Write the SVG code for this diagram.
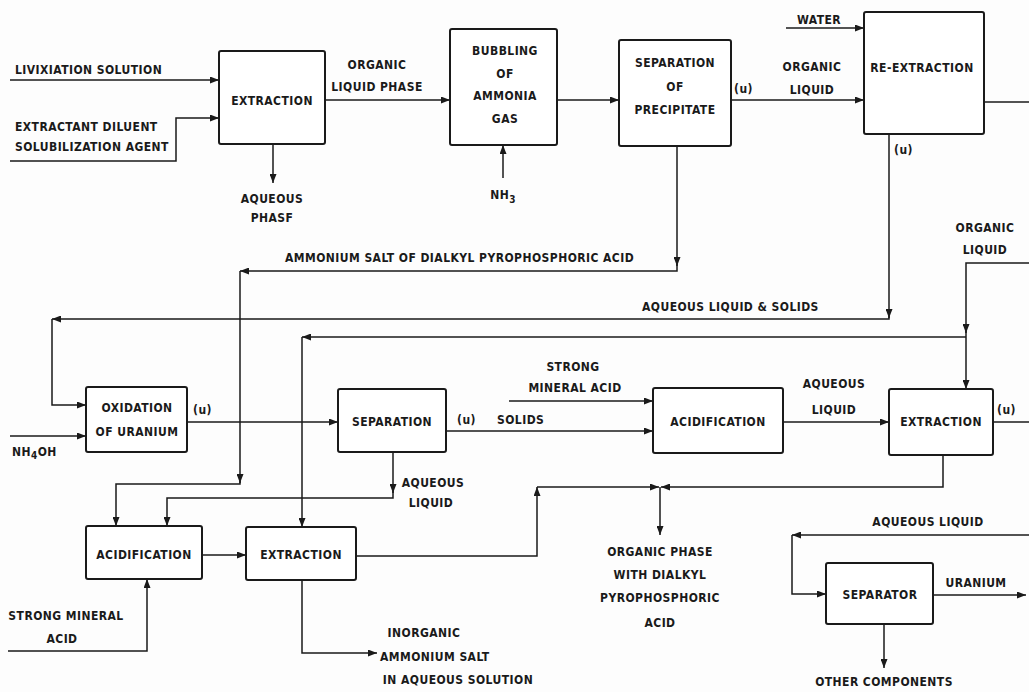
<svg xmlns="http://www.w3.org/2000/svg" width="1029" height="692" viewBox="0 0 1029 692">
<defs>
<marker id="ah" markerWidth="9" markerHeight="7" refX="9" refY="3.5" orient="auto" markerUnits="userSpaceOnUse"><path d="M0,0 L9,3.5 L0,7 z" fill="#1a1a1a"/></marker>
<style>
.bx{fill:#fff;stroke:#1a1a1a;stroke-width:2}
.ln{fill:none;stroke:#1a1a1a;stroke-width:1.5}
.a{marker-end:url(#ah)}
text{font-family:"DejaVu Sans Condensed","DejaVu Sans",sans-serif;font-size:12px;letter-spacing:0.45px;fill:#1a1a1a;font-weight:bold}
.m{text-anchor:middle}
</style>
</defs>
<rect width="1029" height="692" fill="#fdfdfd"/>
<g id="connectors">
<path class="ln a" d="M10,80 H219"/>
<path class="ln a" d="M10,161 H176 V118 H219"/>
<path class="ln a" d="M273,144 V183"/>
<path class="ln a" d="M325,100 H450"/>
<path class="ln a" d="M503,178 V145"/>
<path class="ln a" d="M557,100 H619"/>
<path class="ln a" d="M731,100 H864"/>
<path class="ln a" d="M786,28 H864"/>
<path class="ln" d="M984,102 H1029"/>
<path class="ln a" d="M677,146 V266"/>
<path class="ln a" d="M677,264 V271 H240"/>
<path class="ln a" d="M240,271 V483"/>
<path class="ln a" d="M240,481 V484 H116 V526"/>
<path class="ln a" d="M889,134 V318"/>
<path class="ln a" d="M889,316 V319 H52"/>
<path class="ln a" d="M52,319 V405 H86"/>
<path class="ln a" d="M966,337 H302"/>
<path class="ln a" d="M302,337 V527"/>
<path class="ln a" d="M1029,263 H966 V333"/>
<path class="ln a" d="M966,331 V389"/>
<path class="ln a" d="M187,422 H338"/>
<path class="ln a" d="M10,436 H86"/>
<path class="ln a" d="M446,431 H653"/>
<path class="ln a" d="M509,401 H653"/>
<path class="ln a" d="M783,422 H889"/>
<path class="ln" d="M993,422 H1029"/>
<path class="ln a" d="M943,455 V487 H661"/>
<path class="ln a" d="M356,556 H537 V487"/>
<path class="ln a" d="M537,487 H659"/>
<path class="ln a" d="M660,487 V535"/>
<path class="ln a" d="M393,452 V493"/>
<path class="ln a" d="M393,491 V498 H167 V526"/>
<path class="ln a" d="M202,555 H246"/>
<path class="ln a" d="M8,651 H147 V579"/>
<path class="ln a" d="M302,580 V653 H377"/>
<path class="ln a" d="M1029,535 H792"/>
<path class="ln a" d="M792,535 V594 H826"/>
<path class="ln a" d="M933,595 H1026"/>
<path class="ln a" d="M884,624 V668"/>
</g>
<g id="labels">
<text x="15" y="74">LIVIXIATION SOLUTION</text>
<text x="15" y="131">EXTRACTANT DILUENT</text>
<text x="15" y="151">SOLUBILIZATION AGENT</text>
<text class="m" x="272" y="203">AQUEOUS</text>
<text class="m" x="272" y="222">PHASF</text>
<text class="m" x="377" y="69">ORGANIC</text>
<text class="m" x="377" y="91">LIQUID PHASE</text>
<text class="m" x="503" y="199">NH<tspan font-size="10" dy="4">3</tspan></text>
<text x="734" y="93">(u)</text>
<text class="m" x="812" y="71">ORGANIC</text>
<text class="m" x="812" y="94">LIQUID</text>
<text class="m" x="819" y="24">WATER</text>
<text x="894" y="154">(u)</text>
<text x="285" y="262">AMMONIUM SALT OF DIALKYL PYROPHOSPHORIC ACID</text>
<text x="642" y="311">AQUEOUS LIQUID &amp; SOLIDS</text>
<text class="m" x="985" y="232">ORGANIC</text>
<text class="m" x="985" y="254">LIQUID</text>
<text x="193" y="414">(u)</text>
<text x="12" y="456">NH<tspan font-size="10" dy="3">4</tspan><tspan dy="-3">OH</tspan></text>
<text x="457" y="424">(u)</text>
<text x="497" y="424">SOLIDS</text>
<text class="m" x="573" y="371">STRONG</text>
<text class="m" x="575" y="392">MINERAL ACID</text>
<text class="m" x="834" y="388">AQUEOUS</text>
<text class="m" x="834" y="414">LIQUID</text>
<text x="997" y="414">(u)</text>
<text class="m" x="433" y="487">AQUEOUS</text>
<text class="m" x="431" y="507">LIQUID</text>
<text class="m" x="66" y="620">STRONG MINERAL</text>
<text class="m" x="62" y="643">ACID</text>
<text class="m" x="424" y="637">INORGANIC</text>
<text x="380" y="661">AMMONIUM SALT</text>
<text class="m" x="458" y="684">IN AQUEOUS SOLUTION</text>
<text class="m" x="660" y="556">ORGANIC PHASE</text>
<text class="m" x="660" y="579">WITH DIALKYL</text>
<text class="m" x="660" y="602">PYROPHOSPHORIC</text>
<text class="m" x="660" y="627">ACID</text>
<text class="m" x="928" y="526">AQUEOUS LIQUID</text>
<text class="m" x="976" y="587">URANIUM</text>
<text class="m" x="884" y="686">OTHER COMPONENTS</text>
</g>
<g id="extraction1"><rect class="bx" x="219" y="51" width="106" height="93" rx="2"/><text class="m" x="272" y="105">EXTRACTION</text></g>
<g id="bubbling"><rect class="bx" x="450" y="29" width="107" height="116" rx="2"/><text class="m" x="505" y="55">BUBBLING</text><text class="m" x="505" y="78">OF</text><text class="m" x="505" y="100">AMMONIA</text><text class="m" x="505" y="123">GAS</text></g>
<g id="sep-precipitate"><rect class="bx" x="619" y="40" width="112" height="106" rx="2"/><text class="m" x="675" y="67">SEPARATION</text><text class="m" x="675" y="91">OF</text><text class="m" x="675" y="114">PRECIPITATE</text></g>
<g id="re-extraction"><rect class="bx" x="864" y="12" width="120" height="122" rx="2"/><text class="m" x="922" y="72">RE-EXTRACTION</text></g>
<g id="oxidation"><rect class="bx" x="86" y="387" width="101" height="65" rx="2"/><text class="m" x="137" y="412">OXIDATION</text><text class="m" x="137" y="436">OF URANIUM</text></g>
<g id="separation"><rect class="bx" x="338" y="389" width="108" height="63" rx="2"/><text class="m" x="392" y="426">SEPARATION</text></g>
<g id="acidification1"><rect class="bx" x="653" y="388" width="130" height="65" rx="2"/><text class="m" x="718" y="426">ACIDIFICATION</text></g>
<g id="extraction2"><rect class="bx" x="889" y="389" width="104" height="66" rx="2"/><text class="m" x="941" y="426">EXTRACTION</text></g>
<g id="acidification2"><rect class="bx" x="86" y="526" width="116" height="53" rx="2"/><text class="m" x="144" y="559">ACIDIFICATION</text></g>
<g id="extraction3"><rect class="bx" x="246" y="527" width="110" height="53" rx="2"/><text class="m" x="301" y="559">EXTRACTION</text></g>
<g id="separator"><rect class="bx" x="826" y="563" width="107" height="61" rx="2"/><text class="m" x="880" y="599">SEPARATOR</text></g>
</svg>
